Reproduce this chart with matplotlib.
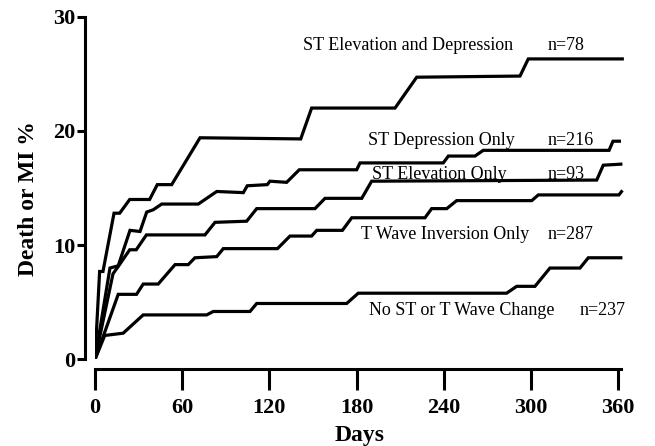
import matplotlib.pyplot as plt

# Cumulative death or MI (%) by admission ECG finding, days 0-360
days_st_both = [0, 3.2, 5.5, 13.1, 17.0, 23.9, 37.6, 42.9, 52.8, 72.3, 141.6, 149.1,
                206.5, 221.4, 292.5, 298.2, 364]
pct_st_both = [0, 7.7, 7.7, 12.8, 12.8, 14.0, 14.0, 15.3, 15.3, 19.4, 19.3, 22.0,
               22.0, 24.7, 24.8, 26.3, 26.3]

days_st_dep = [0, 10.3, 16.0, 24.1, 31.0, 35.6, 40.1, 45.9, 71.1, 83.8, 102.1, 104.8,
               118.6, 120.4, 131.9, 140.6, 180.1, 182.4, 239.7, 243.2, 261.5, 267.2,
               353.8, 356.5, 362]
pct_st_dep = [0, 8.0, 8.2, 11.3, 11.2, 12.9, 13.1, 13.6, 13.6, 14.7, 14.6, 15.2,
              15.3, 15.6, 15.5, 16.6, 16.6, 17.2, 17.2, 17.8, 17.8, 18.3,
              18.3, 19.1, 19.1]

days_st_elev = [0, 12.4, 15.8, 23.9, 28.4, 35.4, 75.7, 82.6, 104.4, 111.3, 151.4,
                158.3, 183.6, 190.4, 345.3, 349.8, 363]
pct_st_elev = [0, 7.5, 8.1, 9.6, 9.6, 10.9, 10.9, 12.0, 12.1, 13.2, 13.2,
               14.1, 14.1, 15.6, 15.7, 17.0, 17.1]

days_t_inv = [0, 16.0, 28.6, 33.2, 43.5, 55.1, 64.2, 68.8, 83.8, 88.3, 125.6, 134.2,
              149.1, 152.6, 170.3, 176.7, 227.1, 231.7, 242.1, 248.9, 300.6, 305.1,
              360.6, 363]
pct_t_inv = [0, 5.7, 5.7, 6.6, 6.6, 8.3, 8.3, 8.9, 9.0, 9.7, 9.7, 10.8,
             10.8, 11.3, 11.3, 12.4, 12.4, 13.2, 13.2, 13.9, 13.9, 14.4,
             14.4, 14.8]

days_none = [0, 6.7, 19.4, 33.2, 76.9, 81.4, 106.7, 111.3, 173.2, 181.2, 283.3,
             290.2, 302.8, 313.1, 333.8, 339.5, 363]
pct_none = [0, 2.1, 2.3, 3.9, 3.9, 4.2, 4.2, 4.9, 4.9, 5.8, 5.8,
            6.4, 6.4, 8.0, 8.0, 8.9, 8.9]

group_names = ["ST Elevation and Depression", "ST Depression Only", "ST Elevation Only",
               "T Wave Inversion Only", "No ST or T Wave Change"]
group_n = ["n=78", "n=216", "n=93", "n=287", "n=237"]

x_ticks = [0, 60, 120, 180, 240, 300, 360]
y_ticks = [0, 10, 20, 30]

plt.rcParams['font.family'] = ['Liberation Serif', 'DejaVu Serif']

fig = plt.figure(figsize=(6.55, 4.46), dpi=100)
ax = fig.add_axes([0.145, 0.194, 0.8075, 0.7687])

curves = [(days_st_both, pct_st_both), (days_st_dep, pct_st_dep),
          (days_st_elev, pct_st_elev), (days_t_inv, pct_t_inv),
          (days_none, pct_none)]
for d, p in curves:
    ax.plot(d, p, color='black', lw=2.3, solid_joinstyle='miter', solid_capstyle='butt')

# group labels and sizes
name_pos = [(143.2, 27.5), (187.9, 19.2), (190.4, 16.2), (182.9, 10.9), (188.8, 4.3)]
n_pos = [(311.8, 27.5), (311.8, 19.2), (311.8, 16.2), (311.8, 10.9), (333.8, 4.3)]
for name, n, (xn, yn), (xc, yc) in zip(group_names, group_n, name_pos, n_pos):
    ax.text(xn, yn, name, fontsize=13, ha='left', va='center')
    ax.text(xc, yc, n, fontsize=13, ha='left', va='center')

ax.set_xlim(0, 364)
ax.set_ylim(0, 30)
ax.set_xticks(x_ticks)
ax.set_yticks(y_ticks)

for side in ['top', 'right']:
    ax.spines[side].set_visible(False)
ax.spines['left'].set_position(('outward', 7))
ax.spines['bottom'].set_position(('outward', 7))
ax.spines['left'].set_linewidth(2.2)
ax.spines['bottom'].set_linewidth(2.2)
ax.spines['bottom'].set_bounds(0, 362)

ax.tick_params(axis='y', direction='out', length=6, width=2.2, pad=1,
               labelsize=16)
ax.tick_params(axis='x', direction='out', length=15, width=2.2, pad=6,
               labelsize=16)
for lab in ax.get_xticklabels() + ax.get_yticklabels():
    lab.set_fontweight('bold')

ax.set_xlabel("Days", fontsize=17, fontweight='bold', labelpad=5)
ax.set_ylabel("Death or MI %", fontsize=17, fontweight='bold')
ax.yaxis.set_label_coords(-0.105, 0.47)

fig.savefig("out.png", dpi=100)
